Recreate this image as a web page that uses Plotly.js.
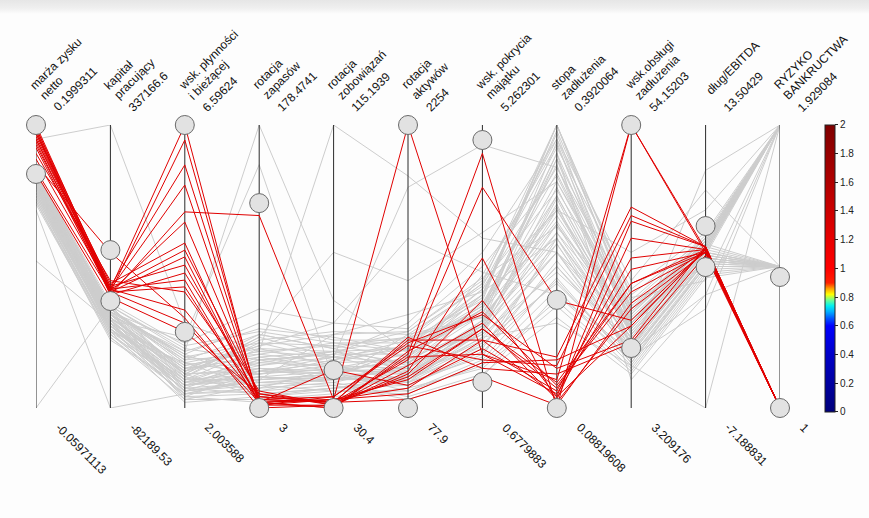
<!DOCTYPE html>
<html>
<head>
<meta charset="utf-8">
<script src="https://cdn.plot.ly/plotly-3.0.1.min.js"></script>
<style>
html,body{margin:0;padding:0;}
body{width:869px;height:518px;overflow:hidden;
background:linear-gradient(to bottom,#e6e6e6 0px,#efefef 8px,#f8f8f8 12px,#fdfdfd 14px,#fdfdfd 100%);}
#chart{width:869px;height:518px;}
</style>
</head>
<body>
<div id="chart"></div>
<script>
// ---- axis labels ----
const nameLine1 = ["marża zysku","kapitał","wsk. płynności","rotacja","rotacja","rotacja","wsk. pokrycia","stopa","wsk.obsługi","dług/EBITDA","RYZYKO"];
const nameLine2 = ["netto","pracujący","i bieżącej","zapasów","zobowiązań","aktywów","majątku","zadłużenia","zadłużenia","","BANKRUCTWA"];
const maxLabels = ["0.1999311","337166.6","6.59624","178.4741","115.1939","2254","5.262301","0.3920064","54.15203","13.50429","1.929084"];
const minLabels = ["-0.05971113","-82189.53","2.003588","3","30.4","77.9","0.6779883","0.08819608","3.209176","-7.188831","1"];

// ---- scaled values (0 = axis minimum, 1 = axis maximum) ----
const redRows = [
 [1.00,0.42,1.000,0.01,0.01,0.15,0.30,0.03,0.60,0.56,0],
 [0.99,0.41,0.947,0.02,0.03,1.00,0.19,0.05,0.49,0.55,0],
 [0.99,0.43,0.859,0.03,0.02,0.24,0.24,0.18,0.71,0.57,0],
 [0.98,0.42,0.788,0.02,0.00,0.19,0.90,0.00,1.00,0.56,0],
 [0.98,0.40,0.693,0.68,0.03,0.10,0.28,0.09,0.44,0.55,0],
 [0.97,0.41,0.657,0.04,0.02,0.17,0.78,0.38,0.31,0.56,0],
 [0.97,0.44,0.583,0.01,0.04,0.22,0.17,0.15,0.68,0.57,0],
 [0.96,0.42,0.558,0.05,0.01,0.13,0.53,0.02,0.35,0.55,0],
 [0.95,0.41,0.534,0.02,0.134,0.08,0.21,0.06,0.53,0.56,0],
 [0.95,0.43,0.505,0.03,0.02,0.25,0.14,0.12,0.23,0.54,0],
 [0.94,0.40,0.477,0.06,0.01,0.12,0.38,0.04,0.66,0.57,0],
 [0.93,0.42,0.452,0.01,0.03,0.05,0.16,0.17,0.29,0.56,0],
 [0.92,0.41,0.428,0.02,0.00,0.20,0.34,0.08,0.41,0.55,0],
 [0.90,0.45,0.410,0.04,0.02,0.03,0.11,0.01,0.37,0.56,0],
 [0.88,0.42,0.346,0.03,0.04,0.23,0.33,0.14,0.24,0.57,0],
 [0.86,0.55,0.318,0.00,0.01,0.18,0.19,0.10,1.00,0.55,0],
 [0.84,0.41,0.300,0.02,0.03,0.07,0.24,0.04,0.29,0.56,0],
 [0.83,0.39,0.269,0.05,0.02,0.11,0.28,0.07,0.44,0.56,0]
];
const grayRows = [
 [0.80,0.33,0.10,0.12,0.15,0.10,0.25,0.55,0.25,0.55,1.0],
 [0.78,0.30,0.06,0.08,0.10,0.14,0.30,0.72,0.20,0.52,0.5],
 [0.82,0.35,0.15,0.20,0.22,0.18,0.35,0.90,0.30,0.58,1.0],
 [0.76,0.28,0.04,0.05,0.07,0.08,0.20,0.45,0.16,0.50,0.5],
 [0.81,0.32,0.12,0.25,0.18,0.22,0.40,1.00,0.35,0.60,1.0],
 [0.74,0.26,0.08,0.10,0.12,0.06,0.15,0.38,0.14,0.48,0.5],
 [0.79,0.34,0.18,0.15,0.20,0.25,0.32,0.65,0.28,0.56,1.0],
 [0.77,0.31,0.03,0.03,0.05,0.12,0.22,0.50,0.22,0.53,0.5],
 [0.83,0.36,0.20,0.28,0.25,0.20,0.42,0.85,0.38,0.61,1.0],
 [0.72,0.25,0.05,0.07,0.09,0.04,0.12,0.32,0.12,0.46,0.5],
 [0.80,0.30,0.09,0.18,0.14,0.16,0.28,0.78,0.26,0.57,1.0],
 [0.75,0.29,0.11,0.06,0.11,0.09,0.18,0.60,0.18,0.51,0.5],
 [0.82,0.33,0.14,0.22,0.26,0.27,0.45,0.95,0.33,0.59,1.0],
 [0.78,0.27,0.02,0.04,0.06,0.05,0.16,0.42,0.15,0.49,0.5],
 [0.81,0.35,0.16,0.12,0.17,0.21,0.36,0.70,0.30,0.55,1.0],
 [0.73,0.24,0.07,0.09,0.08,0.11,0.24,0.55,0.20,0.52,0.5],
 [0.79,0.32,0.13,0.26,0.21,0.15,0.30,0.88,0.36,0.58,1.0],
 [0.76,0.30,0.06,0.14,0.13,0.13,0.26,0.48,0.24,0.54,0.5],
 [0.80,0.34,0.19,0.30,0.24,0.24,0.38,1.00,0.40,0.60,1.0],
 [0.77,0.28,0.04,0.02,0.04,0.07,0.14,0.36,0.13,0.47,0.5],
 [0.82,0.36,0.21,0.17,0.19,0.19,0.33,0.80,0.32,0.57,1.0],
 [0.74,0.27,0.09,0.11,0.10,0.10,0.21,0.58,0.19,0.53,0.5],
 [0.78,0.31,0.12,0.24,0.27,0.26,0.43,0.92,0.42,0.62,1.0],
 [0.75,0.26,0.05,0.06,0.08,0.03,0.11,0.40,0.17,0.50,0.5],
 [0.81,0.33,0.17,0.19,0.16,0.17,0.29,0.75,0.27,0.56,1.0],
 [0.79,0.29,0.08,0.13,0.12,0.12,0.27,0.62,0.23,0.54,0.5],
 [0.83,0.37,0.22,0.27,0.23,0.23,0.40,1.00,0.34,0.59,1.0],
 [0.73,0.25,0.03,0.08,0.06,0.06,0.17,0.46,0.16,0.51,0.5],
 [0.80,0.32,0.14,0.16,0.15,0.14,0.31,0.68,0.29,0.57,1.0],
 [0.76,0.28,0.10,0.10,0.11,0.08,0.19,0.52,0.21,0.52,0.5],
 [0.78,0.35,0.16,0.21,0.20,0.21,0.37,0.83,0.31,0.58,1.0],
 [0.77,0.30,0.07,0.05,0.07,0.10,0.23,0.44,0.18,0.50,0.5],
 [0.52,0.30,0.08,0.12,0.14,0.12,0.30,0.60,0.25,0.55,0.5],
 [0.70,0.00,0.05,0.10,0.12,0.09,0.22,0.50,0.20,0.40,1.0],
 [0.00,0.36,0.12,0.14,0.10,0.15,0.26,0.65,0.22,0.56,0.5],
 [0.95,1.00,0.30,0.20,0.18,0.12,0.28,0.70,0.26,0.54,1.0],
 [0.78,0.33,0.20,1.00,0.38,0.20,0.35,0.75,0.28,0.57,1.0],
 [0.80,0.31,0.25,0.86,0.10,0.26,0.32,0.62,0.30,0.55,0.5],
 [0.77,0.30,0.15,0.20,1.00,0.82,0.60,0.55,0.30,0.56,1.0],
 [0.79,0.32,0.11,0.25,0.55,0.45,0.62,0.80,0.35,0.58,1.0],
 [0.76,0.29,0.09,0.15,0.18,0.78,0.93,0.85,0.33,0.60,1.0],
 [0.81,0.34,0.13,0.22,0.30,0.60,0.48,0.40,0.20,0.84,1.0],
 [0.78,0.31,0.10,0.17,0.19,0.30,0.55,0.95,0.45,0.77,0.5],
 [0.80,0.33,0.12,0.13,0.16,0.22,0.42,0.70,0.55,0.70,1.0],
 [0.75,0.28,0.06,0.09,0.10,0.11,0.25,0.30,0.15,0.00,1.0],
 [0.79,0.30,0.08,0.11,0.13,0.14,0.28,0.55,0.18,0.35,1.0],
 [0.77,0.32,0.14,0.18,0.20,0.16,0.33,0.90,0.10,0.40,0.5],
 [0.82,0.35,0.18,0.23,0.22,0.25,0.44,1.00,0.39,0.45,1.0],
 [0.79,0.31,0.09,0.14,0.12,0.18,0.40,0.97,0.28,0.57,1.0],
 [0.76,0.29,0.13,0.19,0.23,0.20,0.36,0.88,0.22,0.53,0.5],
 [0.81,0.34,0.05,0.11,0.09,0.15,0.47,0.93,0.31,0.59,1.0],
 [0.74,0.27,0.16,0.07,0.14,0.19,0.34,0.66,0.27,0.55,0.5],
 [0.82,0.36,0.11,0.23,0.17,0.24,0.44,0.77,0.34,0.58,1.0],
 [0.78,0.30,0.07,0.16,0.20,0.13,0.29,0.58,0.19,0.52,0.5],
 [0.80,0.33,0.19,0.09,0.11,0.21,0.39,0.98,0.37,0.60,1.0],
 [0.75,0.28,0.10,0.21,0.15,0.09,0.27,0.74,0.24,0.54,0.5],
 [0.77,0.32,0.04,0.13,0.18,0.16,0.35,0.86,0.21,0.56,1.0],
 [0.83,0.35,0.17,0.26,0.21,0.27,0.46,0.64,0.33,0.58,0.5],
 [0.79,0.31,0.12,0.04,0.07,0.11,0.31,0.94,0.26,0.55,1.0],
 [0.73,0.26,0.08,0.17,0.13,0.17,0.37,0.71,0.28,0.57,0.5],
 [0.80,0.34,0.23,0.35,0.30,0.28,0.50,0.82,0.30,0.59,1.0],
 [0.76,0.29,0.06,0.10,0.26,0.33,0.41,0.60,0.23,0.53,0.5]
];
// circle markers (upper / lower) per axis, scaled
const circleHigh = [1.00,0.558,1.00,0.724,0.134,1.00,0.947,0.382,1.00,0.643,0.463];
const circleLow  = [0.827,0.378,0.269,0.00,0.00,0.00,0.092,0.00,0.212,0.498,0.00];
const colorRange = [0, 2];

// ---- build traces ----
const nAx = nameLine1.length;
const axIdx = nameLine1.map((_, i) => i + 1);
function rowsToXY(rows){
  const x = [], y = [];
  rows.forEach(r => { r.forEach((v, i) => { x.push(i + 1); y.push(v); }); x.push(null); y.push(null); });
  return {x, y};
}
const g = rowsToXY(grayRows), r = rowsToXY(redRows);
const axX = [], axY = [];
axIdx.forEach(i => { axX.push(i, i, null); axY.push(0, 1, null); });

const jet = [
 [0,'#00007a'],[0.2,'#0000c8'],[0.3,'#0000ff'],[0.325,'#0050ff'],[0.35,'#00b0ff'],
 [0.37,'#00f0f0'],[0.39,'#70ff90'],[0.41,'#ffff00'],[0.43,'#ffa000'],[0.45,'#ff2000'],
 [0.5,'#ff0000'],[0.6,'#e80000'],[0.8,'#b00000'],[1,'#7f0000']
];

const traces = [
 {x: g.x, y: g.y, type:'scatter', mode:'lines', line:{color:'#cdcdcd', width:1}, hoverinfo:'skip', showlegend:false},
 {x: axX, y: axY, type:'scatter', mode:'lines', line:{color:'#2a2a2a', width:1}, hoverinfo:'skip', showlegend:false},
 {x: r.x, y: r.y, type:'scatter', mode:'lines', line:{color:'#e00000', width:1}, hoverinfo:'skip', showlegend:false},
 {x: axIdx.concat(axIdx), y: circleHigh.concat(circleLow), type:'scatter', mode:'markers', cliponaxis:false,
  marker:{size:19, color:'#e2e2e2', line:{color:'#6a6a6a', width:1}}, hoverinfo:'skip', showlegend:false},
 {x:[1,1], y:[0,0], type:'scatter', mode:'markers', hoverinfo:'skip', showlegend:false,
  marker:{size:1, opacity:0, color:colorRange, cmin:colorRange[0], cmax:colorRange[1], colorscale:jet, showscale:true,
   colorbar:{x:1.0605, xanchor:'left', xpad:0, ypad:0, y:0.4935, yanchor:'middle', lenmode:'pixels', len:287,
    thickness:10, outlinewidth:1, outlinecolor:'#222', tick0:0, dtick:0.2, ticks:'outside', ticklen:3, tickcolor:'#222',
    tickfont:{family:'Liberation Sans, Arial, sans-serif', size:10, color:'#222'}}}}
];

// ---- annotations ----
const font = {family:'Liberation Sans, Arial, sans-serif', size:12, color:'#111'};
const ann = [];
axIdx.forEach((xi, i) => {
  if (nameLine2[i]) {
    ann.push({x:xi, y:1, xref:'x', yref:'paper', text:nameLine1[i], showarrow:false, textangle:-45,
      xanchor:'left', yanchor:'bottom', xshift:-12, yshift:30, font});
    ann.push({x:xi, y:1, xref:'x', yref:'paper', text:nameLine2[i], showarrow:false, textangle:-45,
      xanchor:'left', yanchor:'bottom', xshift:-2, yshift:20, font});
  } else {
    ann.push({x:xi, y:1, xref:'x', yref:'paper', text:nameLine1[i], showarrow:false, textangle:-45,
      xanchor:'left', yanchor:'bottom', xshift:-5, yshift:25, font});
  }
  ann.push({x:xi, y:1, xref:'x', yref:'paper', text:maxLabels[i], showarrow:false, textangle:-45,
    xanchor:'left', yanchor:'bottom', xshift:12, yshift:8, font});
  ann.push({x:xi, y:0, xref:'x', yref:'paper', text:minLabels[i], showarrow:false, textangle:45,
    xanchor:'left', yanchor:'top', xshift:14, yshift:-10, font});
});

const layout = {
  width:869, height:518,
  margin:{l:36, r:89, t:125, b:110},
  paper_bgcolor:'rgba(0,0,0,0)', plot_bgcolor:'rgba(0,0,0,0)',
  xaxis:{range:[1, nAx], visible:false, fixedrange:true},
  yaxis:{range:[0,1], visible:false, fixedrange:true},
  annotations: ann,
  showlegend:false
};
Plotly.newPlot('chart', traces, layout, {displayModeBar:false, staticPlot:true});
</script>
</body>
</html>
